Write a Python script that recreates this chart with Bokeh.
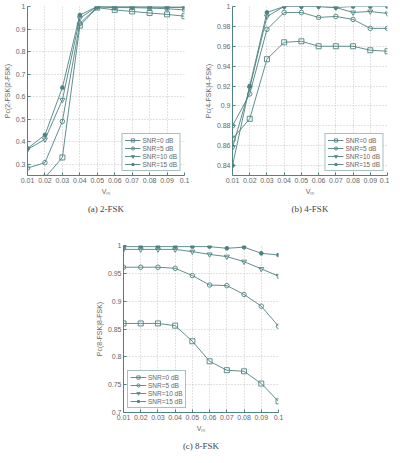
from bokeh.plotting import figure
from bokeh.layouts import column, row
from bokeh.models import FixedTicker, Range1d
from bokeh.embed import file_html
from bokeh.resources import INLINE

x_vals = [0.01, 0.02, 0.03, 0.04, 0.05, 0.06, 0.07, 0.08, 0.09, 0.10]
x_tick_labels = ["0.01", "0.02", "0.03", "0.04", "0.05", "0.06", "0.07", "0.08", "0.09", "0.1"]
snr_labels = ["SNR=0 dB", "SNR=5 dB", "SNR=10 dB", "SNR=15 dB"]

fsk2_snr0 = [0.20, 0.24, 0.33, 0.915, 0.995, 0.985, 0.978, 0.971, 0.965, 0.957]
fsk2_snr5 = [0.283, 0.307, 0.49, 0.925, 0.998, 0.995, 0.995, 0.993, 0.99, 0.985]
fsk2_snr10 = [0.366, 0.41, 0.586, 0.948, 1.0, 0.998, 0.998, 0.997, 0.996, 0.995]
fsk2_snr15 = [0.37, 0.43, 0.64, 0.962, 1.0, 1.0, 1.0, 1.0, 0.999, 0.999]

fsk4_snr0 = [0.867, 0.887, 0.947, 0.964, 0.965, 0.96, 0.96, 0.96, 0.956, 0.955]
fsk4_snr5 = [0.880, 0.912, 0.977, 0.994, 0.994, 0.989, 0.990, 0.987, 0.978, 0.978]
fsk4_snr10 = [0.858, 0.918, 0.990, 1.0, 1.0, 1.0, 0.999, 0.994, 0.995, 0.993]
fsk4_snr15 = [0.840, 0.920, 0.994, 1.0, 1.0, 1.0, 0.999, 1.0, 1.0, 1.0]

fsk8_snr0 = [0.86, 0.86, 0.86, 0.856, 0.828, 0.792, 0.776, 0.774, 0.752, 0.72]
fsk8_snr5 = [0.961, 0.961, 0.961, 0.959, 0.946, 0.929, 0.928, 0.912, 0.891, 0.855]
fsk8_snr10 = [0.993, 0.993, 0.993, 0.993, 0.989, 0.984, 0.980, 0.971, 0.958, 0.945]
fsk8_snr15 = [0.998, 0.998, 0.998, 0.998, 0.998, 0.998, 0.995, 0.997, 0.986, 0.983]

y2_ticks = [0.3, 0.4, 0.5, 0.6, 0.7, 0.8, 0.9, 1.0]
y2_labels = ["0.3", "0.4", "0.5", "0.6", "0.7", "0.8", "0.9", "1"]
y4_ticks = [0.84, 0.86, 0.88, 0.90, 0.92, 0.94, 0.96, 0.98, 1.0]
y4_labels = ["0.84", "0.86", "0.88", "0.9", "0.92", "0.94", "0.96", "0.98", "1"]
y8_ticks = [0.70, 0.75, 0.80, 0.85, 0.90, 0.95, 1.0]
y8_labels = ["0.7", "0.75", "0.8", "0.85", "0.9", "0.95", "1"]

LINE = "#4f8282"
TEXT = "#666666"
GRID = "#c4c4c4"
TICK_FONT = "'Liberation Sans Narrow', 'Liberation Sans', sans-serif"
CAP_FONT = "'Liberation Serif', 'DejaVu Serif', serif"

markers = [("square", 5), ("circle", 4.5), ("inverted_triangle", 5), ("asterisk", 4.5)]


def make(title, ylabel, yr, yticks, ylabels, series, legend_loc,
         fw, fh, left, right, top, bottom):
    p = figure(frame_width=fw, frame_height=fh,
               min_border_left=left, min_border_right=right,
               min_border_top=top, min_border_bottom=bottom,
               x_range=Range1d(0.01, 0.1), y_range=Range1d(*yr),
               output_backend="svg", toolbar_location=None,
               title=title, title_location="below")
    p.outline_line_color = None
    p.background_fill_color = "white"
    p.border_fill_color = "white"
    for (mk, sz), ys, lab in zip(markers, series, snr_labels):
        p.line(x_vals, ys, line_color=LINE, line_width=0.9, legend_label=lab)
        if mk == "asterisk":
            p.scatter(x_vals, ys, marker=mk, size=sz, line_color=LINE,
                      line_width=1.6, legend_label=lab)
        else:
            p.scatter(x_vals, ys, marker=mk, size=sz, line_color=LINE,
                      fill_color=None, line_width=0.9, legend_label=lab)
    p.xaxis.ticker = FixedTicker(ticks=x_vals)
    p.xaxis.major_label_overrides = {v: s for v, s in zip(x_vals, x_tick_labels)}
    p.yaxis.ticker = FixedTicker(ticks=yticks)
    p.yaxis.major_label_overrides = {v: s for v, s in zip(yticks, ylabels)}
    p.xaxis.axis_label = "Vₘ"
    p.yaxis.axis_label = ylabel
    for ax in (p.xaxis, p.yaxis):
        ax.axis_line_color = LINE
        ax.major_tick_line_color = LINE
        ax.major_tick_in = 3
        ax.major_tick_out = 0
        ax.minor_tick_line_color = None
        ax.major_label_text_font = TICK_FONT
        ax.major_label_text_font_size = "7px"
        ax.major_label_text_color = TEXT
        ax.major_label_standoff = 2
        ax.axis_label_text_font = TICK_FONT
        ax.axis_label_text_font_size = "7px"
        ax.axis_label_text_font_style = "normal"
        ax.axis_label_text_color = TEXT
        ax.axis_label_standoff = 2
    p.xgrid.ticker = FixedTicker(ticks=x_vals)
    p.ygrid.ticker = FixedTicker(ticks=yticks)
    for g in (p.xgrid, p.ygrid):
        g.grid_line_color = GRID
        g.grid_line_dash = "1 2"
        g.grid_line_width = 1
    p.title.text_font = CAP_FONT
    p.title.text_font_size = "9px"
    p.title.text_font_style = "normal"
    p.title.text_color = "#444444"
    p.title.align = "center"
    p.title.standoff = 8
    lg = p.legend[0]
    lg.location = legend_loc
    lg.margin = 4
    lg.padding = 2
    lg.spacing = 0
    lg.label_text_font = TICK_FONT
    lg.label_text_font_size = "6.5px"
    lg.label_text_color = TEXT
    lg.label_height = 8
    lg.glyph_height = 8
    lg.glyph_width = 16
    lg.label_standoff = 2
    lg.border_line_color = LINE
    lg.border_line_width = 1
    lg.background_fill_color = "white"
    lg.background_fill_alpha = 1
    return p


p1 = make("(a) 2-FSK", "Pc(2-FSK|2-FSK)", (0.25, 1.0), y2_ticks, y2_labels,
          [fsk2_snr0, fsk2_snr5, fsk2_snr10, fsk2_snr15], "bottom_right",
          157, 169, 22, 17, 6, 30)
p2 = make("(b) 4-FSK", "Pc(4-FSK|4-FSK)", (0.83, 1.0), y4_ticks, y4_labels,
          [fsk4_snr0, fsk4_snr5, fsk4_snr10, fsk4_snr15], "bottom_right",
          155, 169, 31, 2, 6, 30)
p3 = make("(c) 8-FSK", "Pc(8-FSK|8-FSK)", (0.7, 1.0), y8_ticks, y8_labels,
          [fsk8_snr0, fsk8_snr5, fsk8_snr10, fsk8_snr15], "bottom_left",
          155, 167, 123, 98, 28, 30)

layout = column(row(p1, p2), p3)

with open("out.html", "w") as f:
    f.write(file_html(layout, INLINE))
